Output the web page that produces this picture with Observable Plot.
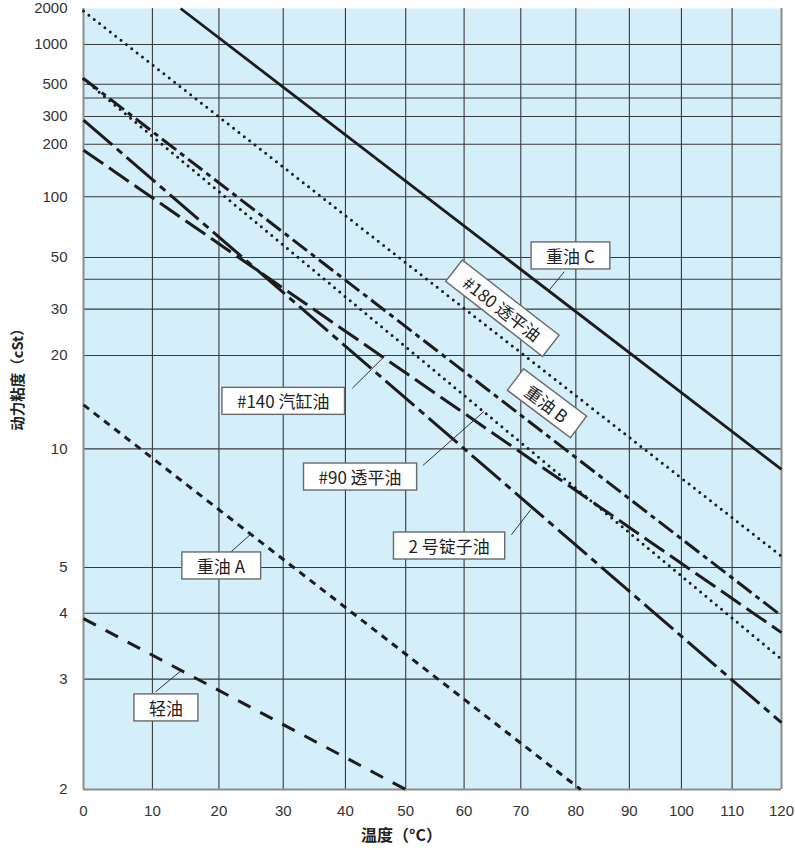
<!DOCTYPE html>
<html>
<head>
<meta charset="utf-8">
<script src="https://cdn.jsdelivr.net/npm/d3@7"></script>
<script src="https://cdn.jsdelivr.net/npm/@observablehq/plot@0.6"></script>
<style>
  body { margin: 0; background: #fff; }
</style>
</head>
<body>
<div id="chart"></div>
<script>
// ---------- data ----------
const oilNames = ["重油 C", "#180 透平油", "重油 B", "#90 透平油", "#140 汽缸油", "2 号锭子油", "重油 A", "轻油"];
// each oil is a straight line on the ASTM chart: start point and end point (°C, cSt)
const tStart = [14.2, 0, 0, 0, 0, 0, 0, 0];
const vStart = [2000, 1900, 550, 545, 184, 284, 13.6, 3.9];
const tEnd   = [120, 120, 120, 120, 120, 120, 80.9, 50];
const vEnd   = [8.75, 5.3, 3.95, 3.26, 3.66, 2.53, 2, 2];

// labels
const labelText  = ["重油 C", "#180 透平油", "重油 B", "#140 汽缸油", "#90 透平油", "2 号锭子油", "重油 A", "轻油"];
const labelT     = [79, 66.5, 74.5, 30, 42.4, 57.4, 20.3, 12];
const labelV     = [50, 29.8, 13.6, 13.8, 8.26, 5.55, 5.0, 2.66];
const labelAngle = [0, 37.8, 37, 0, 0, 0, 0, 0];

// leader lines (from label box to curve)
const leaderFromT = [77.85, 41.14, 52.94, 68.33, 21.51, 10.45];
const leaderFromV = [43.1, 15.41, 8.98, 5.95, 5.37, 2.85];
const leaderToT   = [75.11, 46.11, 63.49, 71.80, 25.13, 14.18];
const leaderToV   = [35.9, 19.53, 12.97, 6.86, 6.01, 3.10];

// axes
const xTicks = [0, 10, 20, 30, 40, 50, 60, 70, 80, 90, 100, 110, 120];
const xGrid  = [10, 20, 30, 40, 50, 60, 70, 80, 90, 100, 110];
const yTicks = [2, 3, 4, 5, 10, 20, 30, 50, 100, 200, 300, 500, 1000, 2000];
const yGrid  = [3, 4, 5, 10, 20, 30, 40, 50, 100, 200, 300, 400, 500, 1000];

// ---------- styles ----------
const lineStyles = [
  {dash: null,            cap: "butt",  width: 2.8},  // 重油 C
  {dash: "0 6.8",         cap: "round", width: 3},    // #180
  {dash: "18 5 5 5",      cap: "butt",  width: 3},    // 重油 B
  {dash: "0 6.8",         cap: "round", width: 3},    // #90
  {dash: "24 7",          cap: "butt",  width: 3},    // #140
  {dash: "38 6 7 6",      cap: "butt",  width: 3},    // 2 号锭子油
  {dash: "7 6",           cap: "butt",  width: 3},    // 重油 A
  {dash: "14 11",         cap: "butt",  width: 3}     // 轻油
];

// ---------- scale transforms (ASTM D341 style chart) ----------
const K = 273.15;
const fx = t => t + K;                                   // log of absolute temperature
const fy = v => Math.log10(Math.log10(v + 0.6));        // log-log viscosity
const invY = y => Math.round(Math.pow(10, Math.pow(10, y)) - 0.6);

const cjk = "'Noto Sans CJK SC', 'Noto Sans CJK JP', sans-serif";

const lineMarks = oilNames.map((name, i) =>
  Plot.line([[tStart[i], vStart[i]], [tEnd[i], vEnd[i]]], {
    x: d => fx(d[0]),
    y: d => fy(d[1]),
    stroke: "#1c1c1c",
    strokeWidth: lineStyles[i].width,
    strokeDasharray: lineStyles[i].dash,
    strokeLinecap: lineStyles[i].cap
  })
);

const leaderIdx = d3.range(leaderFromT.length);
const labelIdx = d3.range(labelText.length);

const svg = Plot.plot({
  width: 795,
  height: 850,
  marginLeft: 83,
  marginRight: 14,
  marginTop: 8,
  marginBottom: 61,
  style: {
    fontFamily: "'Liberation Sans', Arial, sans-serif",
    fontSize: "15px",
    color: "#333",
    background: "#fff"
  },
  x: {
    type: "log",
    domain: [fx(0), fx(120)],
    ticks: xTicks.map(fx),
    tickFormat: d => String(Math.round(d - K)),
    tickSize: 0,
    tickPadding: 16,
    label: null
  },
  y: {
    type: "linear",
    domain: [fy(2), fy(2000)],
    ticks: yTicks.map(fy),
    tickFormat: d => String(invY(d)),
    tickSize: 0,
    tickPadding: 16,
    label: null
  },
  marks: [
    Plot.frame({fill: "#d4eefa", stroke: null}),
    Plot.ruleY(yGrid.map(fy), {stroke: "#3a3a3a", strokeWidth: 1.1}),
    Plot.ruleX(xGrid.map(fx), {stroke: "#3a3a3a", strokeWidth: 1.1}),
    Plot.ruleX([0, 120].map(fx), {stroke: "#8c8c8c", strokeWidth: 2}),
    Plot.ruleY([fy(2)], {stroke: "#8c8c8c", strokeWidth: 2}),
    ...lineMarks,
    Plot.link(leaderIdx, {
      x1: i => fx(leaderFromT[i]), y1: i => fy(leaderFromV[i]),
      x2: i => fx(leaderToT[i]),   y2: i => fy(leaderToV[i]),
      stroke: "#333", strokeWidth: 1
    }),
    Plot.text(labelIdx, {
      x: i => fx(labelT[i]),
      y: i => fy(labelV[i]),
      text: i => labelText[i],
      rotate: i => labelAngle[i],
      fontSize: 17,
      fontFamily: cjk,
      fill: "#222"
    }),
    Plot.text(["温度（°C）"], {
      frameAnchor: "bottom", dx: -31, dy: 46,
      textAnchor: "middle", lineAnchor: "middle",
      fontSize: 16, fontWeight: "bold", fontFamily: cjk, fill: "#222"
    }),
    Plot.text(["动力粘度（cSt）"], {
      frameAnchor: "left", rotate: -90, dx: -65, dy: -23,
      textAnchor: "middle", lineAnchor: "middle",
      fontSize: 14.5, fontWeight: "bold", fontFamily: cjk, fill: "#222"
    })
  ]
});

document.getElementById("chart").append(svg);

// white bordered boxes behind the curve labels
const labelSet = new Set(labelText);
svg.querySelectorAll("text").forEach(t => {
  if (!labelSet.has(t.textContent)) return;
  const b = t.getBBox();
  const h = 27;
  const cy = b.y + b.height / 2;
  const r = document.createElementNS("http://www.w3.org/2000/svg", "rect");
  r.setAttribute("x", b.x - 15);
  r.setAttribute("y", cy - h / 2);
  r.setAttribute("width", b.width + 30);
  r.setAttribute("height", h);
  r.setAttribute("fill", "#fff");
  r.setAttribute("stroke", "#6a6a6a");
  r.setAttribute("stroke-width", 1.4);
  const tr = t.getAttribute("transform");
  if (tr) r.setAttribute("transform", tr);
  t.parentNode.insertBefore(r, t);
});
</script>
</body>
</html>
